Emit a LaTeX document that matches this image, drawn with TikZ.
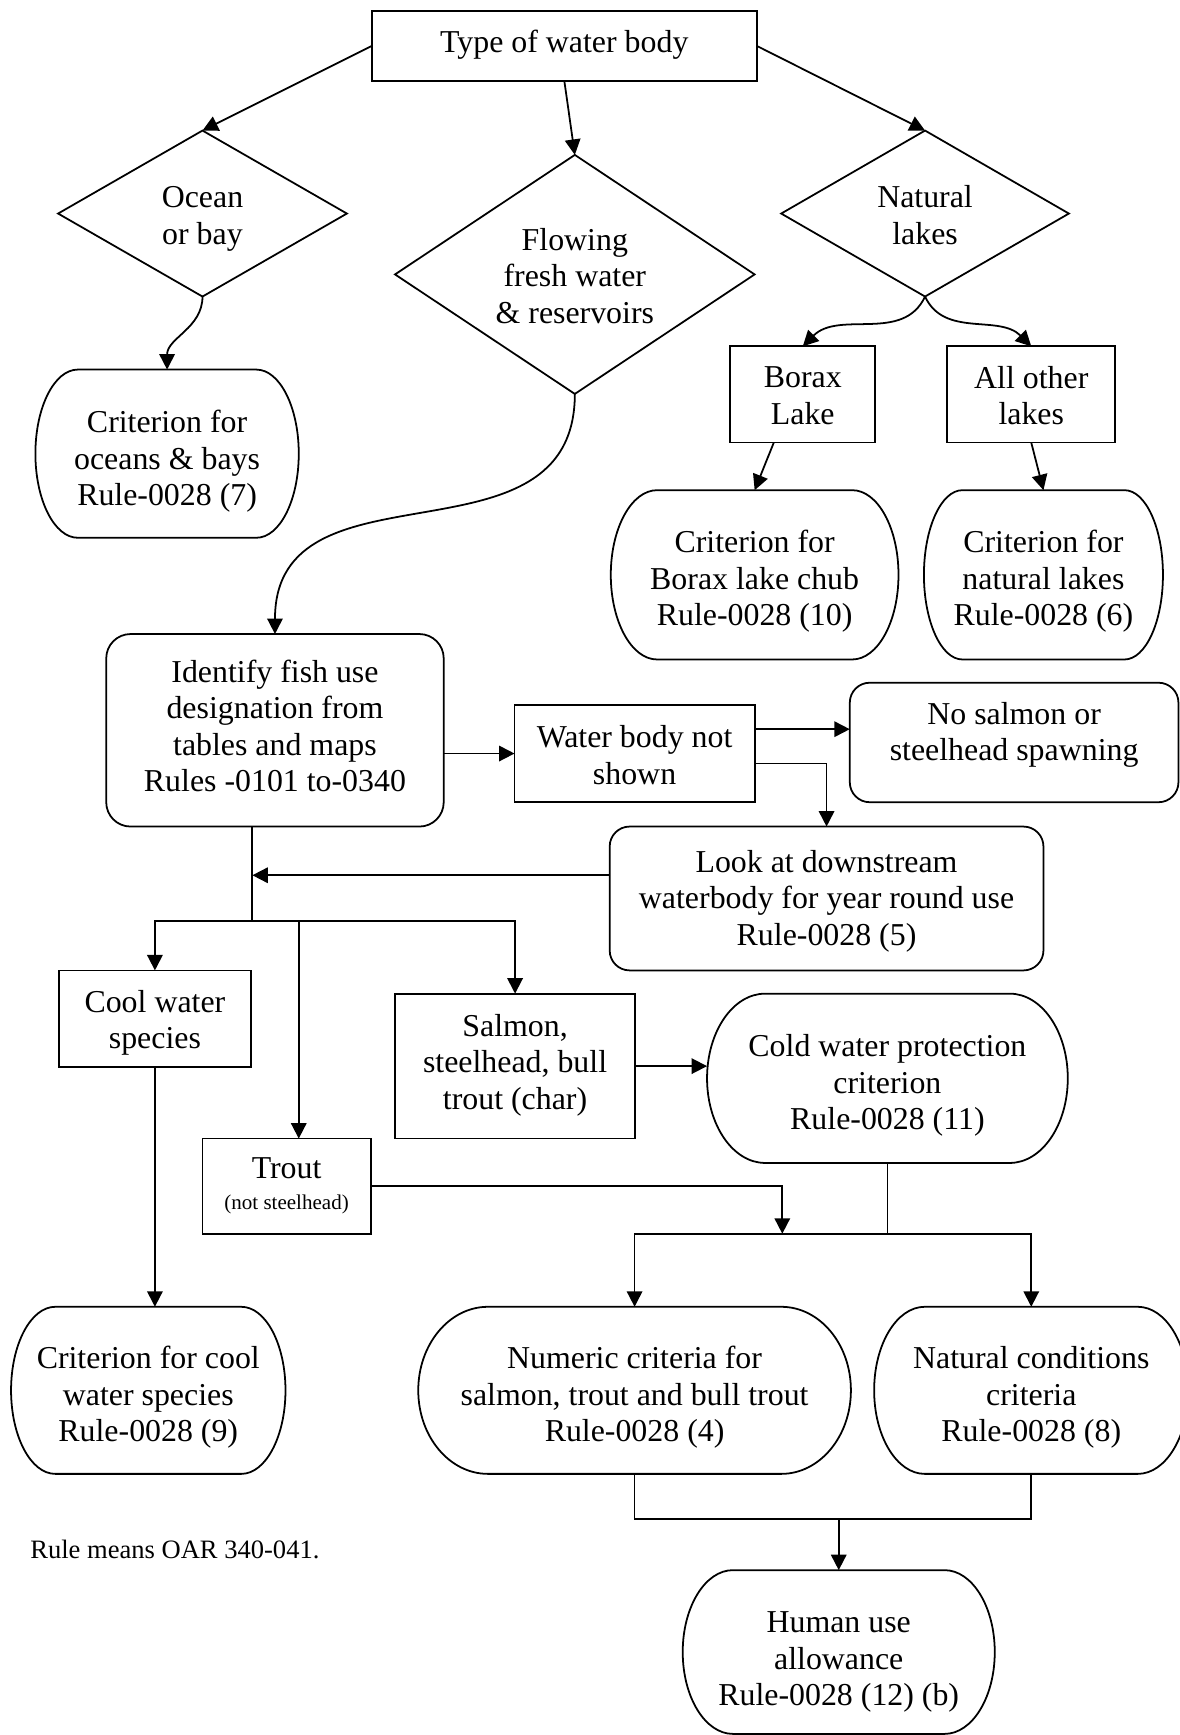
\documentclass[tikz,border=0pt]{standalone}
\usepackage{fontspec}
\setmainfont{Liberation Serif}
\usetikzlibrary{calc,arrows.meta}
\tikzset{
 shp/.style={line width=0.8pt, line join=miter},
 geo/.style={inner sep=0pt, outer sep=0pt},
 txt/.style={align=center, inner sep=0pt, outer sep=0pt, font=\fontsize{14.4}{16.5}\selectfont},
 boxnode/.style={geo, draw, line width=0.8pt},
 rbox/.style={boxnode, rounded corners=#1},
 arr/.style={line width=0.8pt, -{Triangle[length=7pt,width=7pt]}},
 ln/.style={line width=0.8pt},
}
% #1 style, #2 name, #3 x, #4 y, #5 w, #6 h, #7 text shift, #8 text
\newcommand\boxshape[8]{%
  \node[#1, minimum width=#5*0.5pt, minimum height=#6*0.5pt] (#2) at (#3,#4) {};
  \node[txt] (#2-t) at ($(#2.center)+(0,#7)$) {#8};
}
% #1 name, #2 x, #3 y, #4 w, #5 h, #6 text shift, #7 text
\newcommand\termshape[7]{%
  \node[geo, minimum width=#4*0.5pt, minimum height=#5*0.5pt] (#1) at (#2,#3) {};
  \node[txt] (#1-t) at ($(#1.center)+(0,#6)$) {#7};
  \pgfmathsetmacro\myrx{0.161*#4}%
  \pgfmathsetmacro\myrxpt{0.0805*#4}%
  \pgfmathsetmacro\myrypt{0.25*#5}%
  \draw[shp] ($(#1.north west)+(\myrx,0)$) -- ($(#1.north east)+(-\myrx,0)$)
    arc[start angle=90,end angle=-90,x radius=\myrxpt pt,y radius=\myrypt pt]
    -- ($(#1.south west)+(\myrx,0)$)
    arc[start angle=270,end angle=90,x radius=\myrxpt pt,y radius=\myrypt pt] -- cycle;
}
\newcommand\diamshape[7]{%
  \node[geo, minimum width=#4*0.5pt, minimum height=#5*0.5pt] (#1) at (#2,#3) {};
  \node[txt] (#1-t) at ($(#1.center)+(0,#6)$) {#7};
  \draw[shp] (#1.north) -- (#1.east) -- (#1.south) -- (#1.west) -- cycle;
}
\begin{document}
\begin{tikzpicture}[x=0.5pt,y=-0.5pt]
\useasboundingbox (0,0) rectangle (1066,1568);

% nodes
\boxshape{boxnode}{top}{510}{41.5}{348}{63}{-1}{Type of water body}
\diamshape{ocean}{183}{193}{261}{150}{5}{Ocean\\or bay}
\diamshape{flowing}{519.5}{248}{325}{216}{1.5}{Flowing\\fresh water\\\& reservoirs}
\diamshape{natural}{836}{193}{260}{150}{1.5}{Natural\\lakes}
\termshape{crit7}{151}{410}{238}{152}{7}{Criterion for\\oceans \& bays\\Rule-0028 (7)}
\boxshape{boxnode}{borax}{725.5}{356.5}{131}{87}{1}{Borax\\Lake}
\boxshape{boxnode}{allother}{932}{356.5}{152}{87}{1}{All other\\lakes}
\termshape{crit10}{682}{519.5}{260}{153}{6}{Criterion for\\Borax lake chub\\Rule-0028 (10)}
\termshape{crit6}{943}{519.5}{216}{153}{6}{Criterion for\\natural lakes\\Rule-0028 (6)}
\boxshape{rbox=11pt}{ident}{248.5}{660}{305}{174}{-4}{Identify fish use\\designation from\\tables and maps\\Rules -0101 to-0340}
\boxshape{boxnode}{wbns}{573.5}{681}{217}{88}{1.5}{Water body not\\shown}
\boxshape{rbox=9pt}{nosalmon}{916.5}{671}{297}{108}{-7}{No salmon or\\steelhead spawning}
\boxshape{rbox=9pt}{look}{747}{812}{392}{130}{2.5}{Look at downstream\\waterbody for year round use\\Rule-0028 (5)}
\boxshape{boxnode}{cool}{140}{920.5}{174}{87}{4}{Cool water\\species}
\boxshape{boxnode}{salmon}{465.5}{963.5}{217}{131}{-1}{Salmon,\\steelhead, bull\\trout (char)}
\termshape{cold}{802}{974.5}{326}{153}{6.5}{Cold water protection\\criterion\\Rule-0028 (11)}
\boxshape{boxnode}{trout}{259}{1072}{152}{86}{0}{Trout\\[-2.5pt]{\fontsize{9.5}{11}\selectfont (not steelhead)}}
\termshape{crit9}{134}{1256.5}{248}{151}{6.5}{Criterion for cool\\water species\\Rule-0028 (9)}
\termshape{crit4}{573.5}{1256.5}{391}{151}{6.5}{Numeric criteria for\\salmon, trout and bull trout\\Rule-0028 (4)}
\termshape{crit8}{932}{1256.5}{284}{151}{6.5}{Natural conditions\\criteria\\Rule-0028 (8)}
\termshape{human}{758}{1493}{282}{148}{9}{Human use\\allowance\\Rule-0028 (12) (b)}
\node[anchor=west, inner sep=0pt, font=\fontsize{12}{14}\selectfont] (note) at (27,1400) {Rule means OAR 340-041.};

% connectors
\draw[arr] (top.west) -- (ocean.north);
\draw[arr] (top.south) -- (flowing.north);
\draw[arr] (top.east) -- (natural.north);
\draw[arr] (ocean.south) to[out=-90,in=90] (crit7.north);
\draw[arr] (flowing.south) to[out=-90,in=90,looseness=1.2] (ident.north);
\draw[arr] (natural.south) to[out=-115,in=45] (borax.north);
\draw[arr] (natural.south) to[out=-65,in=135] (allother.north);
\draw[arr] ($(borax.south west)!0.3!(borax.south east)$) -- (crit10.north);
\draw[arr] (allother.south) -- (crit6.north);
\draw[arr] (wbns.west -| ident.east) -- (wbns.west);
\draw[arr] ($(wbns.north east)+(0,22)$) coordinate (p1) -- (p1 -| nosalmon.west);
\draw[arr] ($(wbns.south east)+(0,-35)$) -| (look.north);
\coordinate (v) at ($(ident.south west)!0.433!(ident.south east)$);
\draw[ln] (v) -- ++(0,85) coordinate (j);
\draw[arr] ($(look.west)+(0,-21)$) coordinate (q) -- (q -| v);
\draw[arr] (j) -| (cool.north);
\draw[arr] (j) -| (salmon.north);
\coordinate (tt) at ($(trout.north)+(11,0)$);
\draw[arr] (j -| tt) -- (tt);
\draw[arr] (cool.south) -- (cool.south |- crit9.north);
\draw[arr] (salmon.east) -- (salmon.east -| cold.west);
\draw[ln] (cold.south) -- ++(0,64) coordinate (h1);
\draw[arr] (h1) -| (crit4.north);
\draw[arr] (h1) -| (crit8.north);
\coordinate (tk) at ($(h1)+(-95,0)$);
\draw[arr] (trout.east) -| (tk);
\coordinate (m) at ($(crit4.south)+(0,41)$);
\draw[ln] (crit4.south) -- (m) -| (crit8.south);
\draw[arr] (m -| human.north) -- (human.north);
\end{tikzpicture}
\end{document}
